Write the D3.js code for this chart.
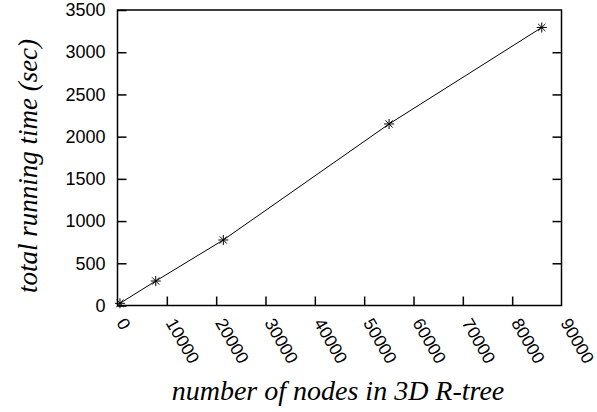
<!DOCTYPE html>
<html>
<head>
<meta charset="utf-8">
<script src="https://cdn.jsdelivr.net/npm/d3@7"></script>
<style>
  body { margin: 0; background: #fff; }
  svg { display: block; }
  .serif { font-family: 'Liberation Serif', 'DejaVu Serif', serif; font-style: italic; }
  .sans { font-family: 'Liberation Sans', Arial, sans-serif; }
</style>
</head>
<body>
<div class="chart"></div>
<script>
// node counts in the 3D R-tree and total running time (sec)
const nodeCounts = [500, 7750, 21450, 55050, 86000];
const runTimes = [26, 290, 776, 2150, 3293];
const xTicks = [0, 10000, 20000, 30000, 40000, 50000, 60000, 70000, 80000, 90000];
const yTicks = [0, 500, 1000, 1500, 2000, 2500, 3000, 3500];

const W = 597, H = 412;
const margin = { top: 10, right: 35.5, bottom: 106.5, left: 117.5 };
const width = W - margin.left - margin.right,
      height = H - margin.top - margin.bottom;

const svg = d3.select('.chart')
  .append('svg')
  .attr('width', W)
  .attr('height', H);

const g = svg.append('g')
  .attr('transform', `translate(${margin.left}, ${margin.top})`);

const x = d3.scaleLinear().domain([0, 90000]).range([0, width]);
const y = d3.scaleLinear().domain([0, 3500]).range([height, 0]);

// y axis labels + inward ticks on both sides
const yAxis = g.append('g')
  .call(d3.axisLeft(y).tickValues(yTicks).tickSize(-9).tickPadding(12).tickFormat(d => d));
yAxis.select('.domain').remove();
yAxis.selectAll('text')
  .attr('class', 'sans')
  .style('font-size', '18px')
  .attr('fill', '#000');
yAxis.selectAll('line').attr('stroke', '#000').attr('stroke-width', 1.5);

const yRight = g.append('g')
  .attr('transform', `translate(${width},0)`)
  .call(d3.axisRight(y).tickValues(yTicks.slice(1, -1)).tickSize(-9).tickFormat(''));
yRight.select('.domain').remove();
yRight.selectAll('line').attr('stroke', '#000').attr('stroke-width', 1.5);

// x axis, labels rotated
const xAxis = g.append('g')
  .attr('transform', `translate(0,${height})`)
  .call(d3.axisBottom(x).tickValues(xTicks).tickSize(-9).tickFormat(d => d));
xAxis.select('.domain').remove();
xAxis.selectAll('line').attr('stroke', '#000').attr('stroke-width', 1.5)
  .filter(d => d == 0 || d == 90000).remove();
xAxis.selectAll('text')
  .attr('y', 0).attr('dy', 0)
  .attr('transform', 'translate(2,15) rotate(60)')
  .style('text-anchor', 'start')
  .attr('dominant-baseline', 'middle')
  .attr('class', 'sans')
  .style('font-size', '17.5px')
  .attr('fill', '#000');

// frame
g.append('rect')
  .attr('width', width)
  .attr('height', height)
  .attr('fill', 'none')
  .attr('stroke', '#000')
  .attr('stroke-width', 1.5);

// data line + star points
const pts = nodeCounts.map((n, i) => [x(n), y(runTimes[i])]);
g.append('path')
  .datum(pts)
  .attr('fill', 'none')
  .attr('stroke', '#000')
  .attr('stroke-width', 1)
  .attr('d', d3.line());

const star = 'M-5,0L5,0M0,-5L0,5M-3.6,-3.6L3.6,3.6M-3.6,3.6L3.6,-3.6';
g.selectAll('.pt')
  .data(pts)
  .enter()
  .append('path')
  .attr('class', 'pt')
  .attr('transform', d => `translate(${d[0]},${d[1]})`)
  .attr('d', star)
  .attr('stroke', '#000')
  .attr('stroke-width', 1);

// axis titles
svg.append('text')
  .attr('class', 'serif')
  .attr('x', 338)
  .attr('y', 400)
  .style('text-anchor', 'middle')
  .style('font-size', '28px')
  .text('number of nodes in 3D R-tree');

svg.append('text')
  .attr('class', 'serif')
  .attr('transform', 'translate(37,166) rotate(-90)')
  .style('text-anchor', 'middle')
  .style('font-size', '27px')
  .text('total running time (sec)');
</script>
</body>
</html>
